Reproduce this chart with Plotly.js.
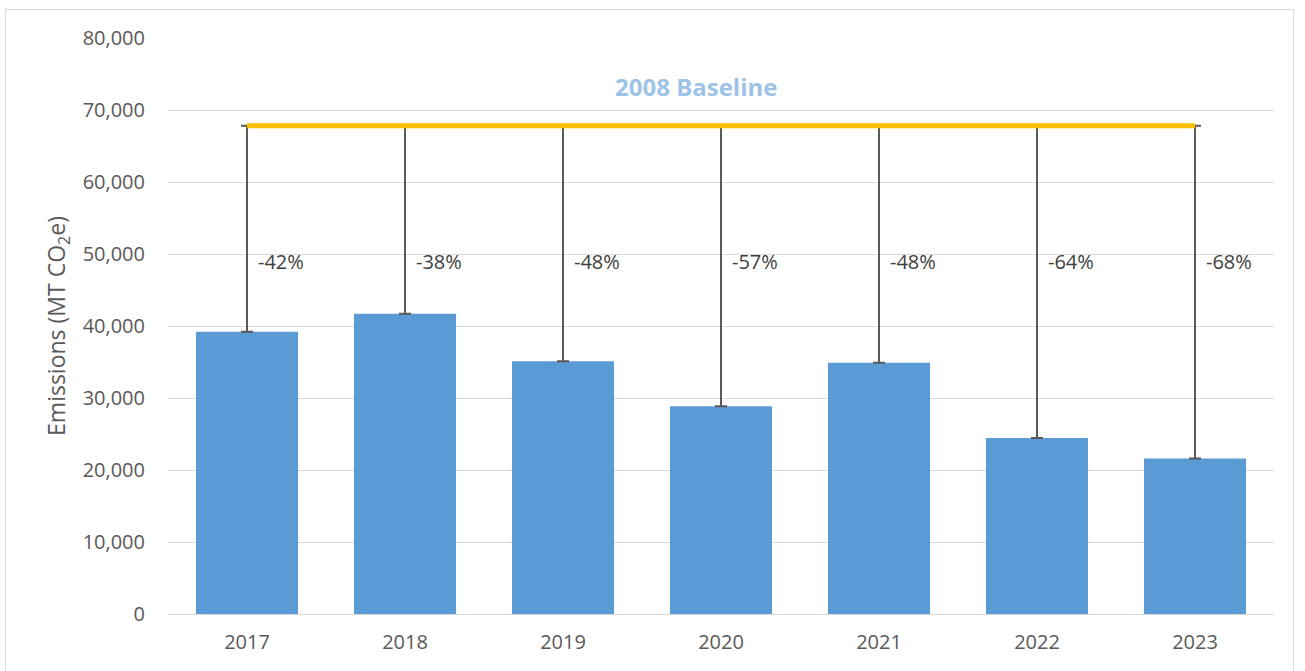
<!DOCTYPE html>
<html>
<head>
<meta charset="utf-8">
<script src="https://cdn.plot.ly/plotly-3.0.1.min.js"></script>
<style>
  html, body { margin: 0; padding: 0; background: #fff; }
  #wrap { position: relative; width: 1305px; height: 671px; }
  #chart { width: 1305px; height: 671px; }
  #frame { position: absolute; left: 5px; top: 9px; width: 1287px; height: 680px;
           border: 1px solid #d9d9d9; pointer-events: none; }
</style>
</head>
<body>
<div id="wrap">
  <div id="chart"></div>
  <div id="frame"></div>
</div>
<script>
// ---- data ----
const years = ['2017', '2018', '2019', '2020', '2021', '2022', '2023'];
const emissions = [39200, 41700, 35100, 28850, 34900, 24450, 21600];
const baseline2008 = 67800;
const changeLabels = ['-42%', '-38%', '-48%', '-57%', '-48%', '-64%', '-68%'];
const baselineLabel = '2008 Baseline';
const yTickVals = [0, 10000, 20000, 30000, 40000, 50000, 60000, 70000, 80000];

// ---- derived ----
const gapToBaseline = emissions.map(v => baseline2008 - v);
const labelY = 48900;

const font = '"Open Sans", "Noto Sans", "Liberation Sans", sans-serif';
const grey = '#595959';

const bars = {
  type: 'bar',
  x: years,
  y: emissions,
  marker: { color: '#5B9BD5', line: { width: 0 } },
  error_y: {
    type: 'data',
    symmetric: false,
    array: gapToBaseline,
    arrayminus: years.map(() => 0),
    color: grey,
    thickness: 2,
    width: 6
  },
  hoverinfo: 'x+y',
  showlegend: false
};

const baseLine = {
  type: 'scatter',
  mode: 'lines',
  x: [years[0], years[years.length - 1]],
  y: [baseline2008, baseline2008],
  line: { color: '#FFC000', width: 5 },
  hoverinfo: 'y',
  showlegend: false
};

const annotations = years.map((yr, i) => ({
  x: i, y: labelY, xref: 'x', yref: 'y',
  text: changeLabels[i],
  showarrow: false,
  xanchor: 'left',
  yanchor: 'middle',
  xshift: 9,
  font: { family: font, size: 20, color: '#404040' }
}));
annotations.push({
  x: 0.477, y: 73300, xref: 'paper', yref: 'y',
  text: '<b>' + baselineLabel + '</b>',
  showarrow: false,
  xanchor: 'center', yanchor: 'middle',
  font: { family: font, size: 24, color: '#9DC3E6' }
});

const layout = {
  width: 1305,
  height: 671,
  margin: { l: 168, r: 31, t: 38, b: 57 },
  paper_bgcolor: '#ffffff',
  plot_bgcolor: '#ffffff',
  bargap: 0.354,
  font: { family: font, color: grey, size: 20 },
  xaxis: {
    type: 'category',
    categoryarray: years,
    range: [-0.5, years.length - 0.5],
    autorange: false,
    showgrid: false,
    showline: true,
    linecolor: '#d9d9d9',
    linewidth: 1,
    ticks: '',
    ticklabelstandoff: 10,
    tickfont: { family: font, size: 20, color: grey },
    fixedrange: true
  },
  yaxis: {
    range: [0, 80000],
    autorange: false,
    tickvals: yTickVals,
    tickformat: ',d',
    showgrid: true,
    gridcolor: '#d9d9d9',
    gridwidth: 1,
    zeroline: false,
    showline: false,
    ticks: '',
    ticklabelstandoff: 22,
    tickfont: { family: font, size: 20, color: grey },
    title: {
      text: 'Emissions (MT CO<sub>2</sub>e)',
      font: { family: font, size: 23, color: grey },
      standoff: 10
    },
    fixedrange: true
  },
  annotations: annotations
};

Plotly.newPlot('chart', [bars, baseLine], layout, { displayModeBar: false, staticPlot: true });
</script>
</body>
</html>
